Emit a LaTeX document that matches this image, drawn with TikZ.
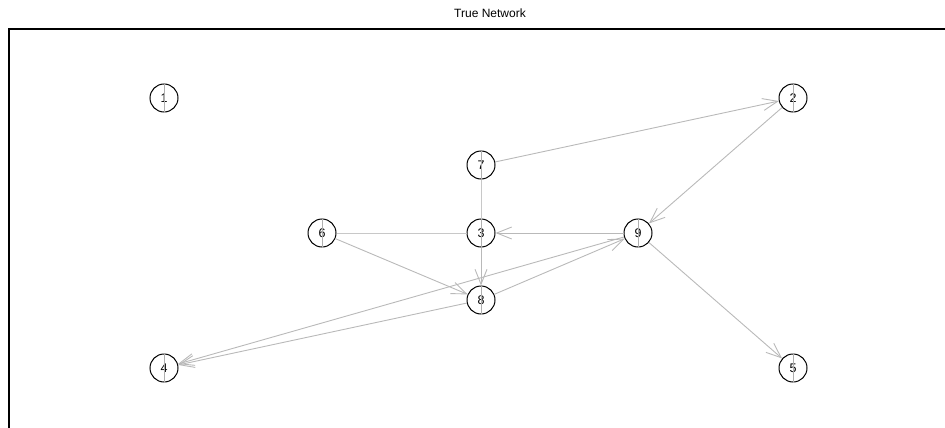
\documentclass[tikz,border=0pt]{standalone}
\usepackage{fontspec}
\setmainfont{Liberation Sans}
\usetikzlibrary{arrows.meta}
\begin{document}
\begin{tikzpicture}[x=1pt,y=-1pt,
  vertex/.style={circle,draw=black,line width=1pt,minimum size=28pt,inner sep=0pt,font=\fontsize{12.5}{12.5}\selectfont},
  edge/.style={draw={rgb,255:red,185;green,185;blue,185},line width=0.9pt,
    -{Straight Barb[length=15pt,width=12pt,line width=0.9pt]}},
  plain/.style={draw={rgb,255:red,200;green,200;blue,200},line width=0.9pt},
  tick/.style={draw={rgb,255:red,175;green,175;blue,175},line width=0.9pt}]
\useasboundingbox (0,0) rectangle (945,428);
% plot frame
\draw[line width=1.3pt] (9,428) -- (9,29) -- (945,29);
\node[font=\fontsize{12}{12}\selectfont] (title) at (490,13) {True Network};
% vertices
\node[vertex] (n1) at (164,98) {1};
\node[vertex] (n2) at (793,98) {2};
\node[vertex] (n7) at (481,165) {7};
\node[vertex] (n6) at (322,233) {6};
\node[vertex] (n3) at (481,233) {3};
\node[vertex] (n9) at (638,233) {9};
\node[vertex] (n8) at (481,300) {8};
\node[vertex] (n4) at (164,368) {4};
\node[vertex] (n5) at (793,368) {5};
% vertical marks through each vertex
\foreach \v in {n1,n2,n3,n4,n5,n6,n7,n8,n9}
  \draw[tick] (\v.north) -- (\v.south);
% connections
\draw[plain] (n6) -- (n3);
\draw[plain] (n7) -- (n3);
\draw[edge] (n7) -- (n2);
\draw[edge] (n2) -- (n9);
\draw[edge] (n9) -- (n3);
\draw[edge] (n3) -- (n8);
\draw[edge] (n6) -- (n8);
\draw[edge] (n8) -- (n9);
\draw[edge] (n9) -- (n4);
\draw[edge] (n8) -- (n4);
\draw[edge] (n9) -- (n5);
\end{tikzpicture}
\end{document}
